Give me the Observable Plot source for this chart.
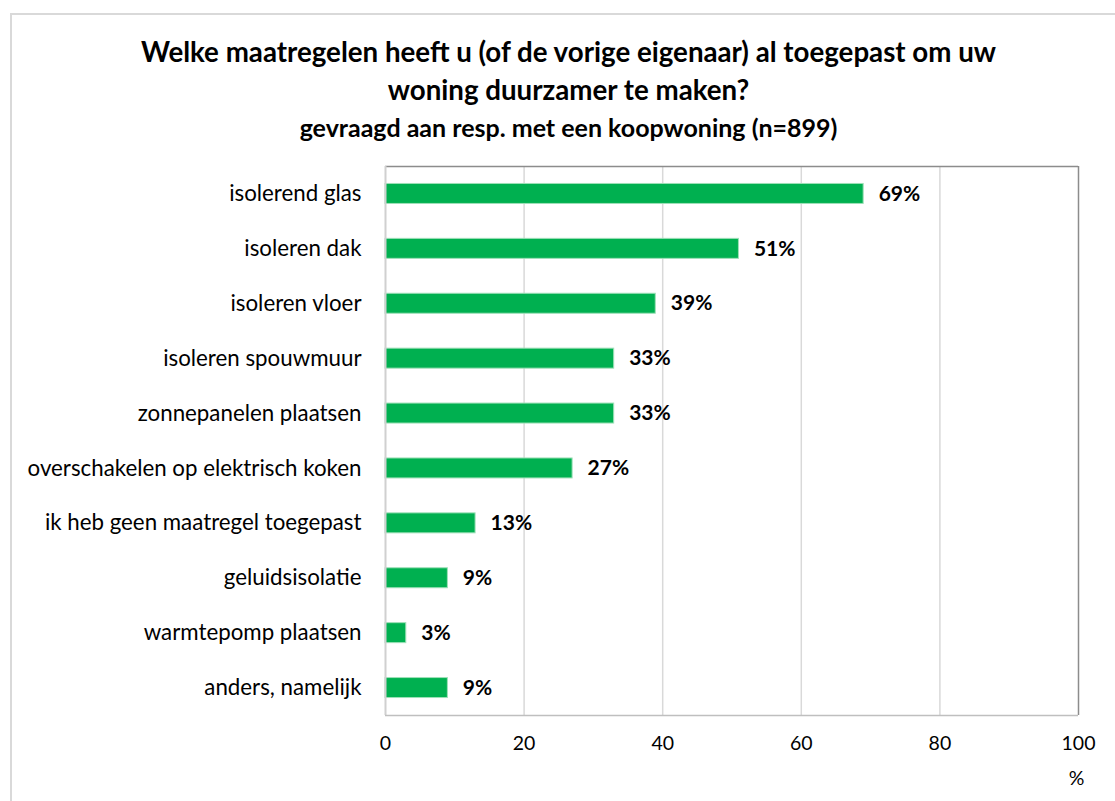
<!DOCTYPE html>
<html>
<head>
<meta charset="utf-8">
<script src="https://cdn.jsdelivr.net/npm/d3@7"></script>
<script src="https://cdn.jsdelivr.net/npm/@observablehq/plot@0.6"></script>
<style>
  html, body { margin: 0; padding: 0; background: #fff; width: 1115px; height: 801px; overflow: hidden; }
  #frame { position: absolute; left: 10px; top: 13px; width: 1120px; height: 800px; border: 2px solid #d9d9d9; box-sizing: border-box; }
  .t { position: absolute; left: 0; width: 1137px; text-align: center; font-family: Lato, sans-serif; font-weight: bold; color: #000; white-space: nowrap; }
  #t1 { top: 35px; font-size: 27.7px; line-height: 34px; }
  #t2 { top: 73px; font-size: 27.7px; line-height: 34px; }
  #t3 { top: 112px; font-size: 25px; line-height: 30px; }
  #chart { position: absolute; left: 0; top: 140px; }
</style>
</head>
<body>
<div id="frame"></div>
<div class="t" id="t1">Welke maatregelen heeft u (of de vorige eigenaar) al toegepast om uw</div>
<div class="t" id="t2">woning duurzamer te maken?</div>
<div class="t" id="t3">gevraagd aan resp. met een koopwoning (n=899)</div>
<div id="chart"></div>
<script>
const categories = [
  "isolerend glas",
  "isoleren dak",
  "isoleren vloer",
  "isoleren spouwmuur",
  "zonnepanelen plaatsen",
  "overschakelen op elektrisch koken",
  "ik heb geen maatregel toegepast",
  "geluidsisolatie",
  "warmtepomp plaatsen",
  "anders, namelijk"
];
const values = [69, 51, 39, 33, 33, 27, 13, 9, 3, 9];
const xTicks = [0, 20, 40, 60, 80, 100];
const axisUnit = "%";

const data = categories.map((c, i) => ({category: c, value: values[i]}));

const plotTop = 26, plotBottom = 86, svgHeight = 661;
const step = (svgHeight - plotTop - plotBottom) / categories.length;

const chart = Plot.plot({
  width: 1115,
  height: svgHeight,
  marginLeft: 385,
  marginRight: 37,
  marginTop: plotTop,
  marginBottom: plotBottom,
  style: {fontFamily: "Lato, sans-serif", fontSize: "19px", color: "#000", background: "transparent"},
  x: {domain: [0, 100], ticks: xTicks, label: null},
  y: {domain: categories, label: null, paddingInner: 0.636, paddingOuter: 0.318, align: 0.5, round: false},
  marks: [
    Plot.gridX(xTicks.filter(d => d > 0 && d < 100), {stroke: "#d9d9d9", strokeOpacity: 1, strokeWidth: 1.5}),
    Plot.ruleX([100], {stroke: "#8c8c8c", strokeWidth: 1.5}),
    Plot.ruleY([categories[0]], {stroke: "#8c8c8c", strokeWidth: 1.5, dy: -step / 2}),
    Plot.barX(data, {x: "value", y: "category", fill: "#00b050", stroke: "#9ee0b8", strokeWidth: 1}),
    Plot.ruleX([0], {stroke: "#d0d0d0", strokeWidth: 2}),
    Plot.ruleY([categories[categories.length - 1]], {stroke: "#bfbfbf", strokeWidth: 1.5, dy: step / 2}),
    Plot.text(data, {x: "value", y: "category", text: d => d.value + "%", textAnchor: "start", dx: 15, fontWeight: "bold", fontSize: 21}),
    Plot.axisX({ticks: xTicks, tickSize: 0, tickPadding: 21, label: null, fontSize: 19.5}),
    Plot.axisY({tickSize: 0, tickPadding: 24, label: null, fontSize: 22.3}),
    Plot.text([axisUnit], {frameAnchor: "bottom-right", text: d => d, dy: 69, dx: -2, fontSize: 19.5, textAnchor: "middle"})
  ]
});
document.getElementById("chart").appendChild(chart);
</script>
</body>
</html>
